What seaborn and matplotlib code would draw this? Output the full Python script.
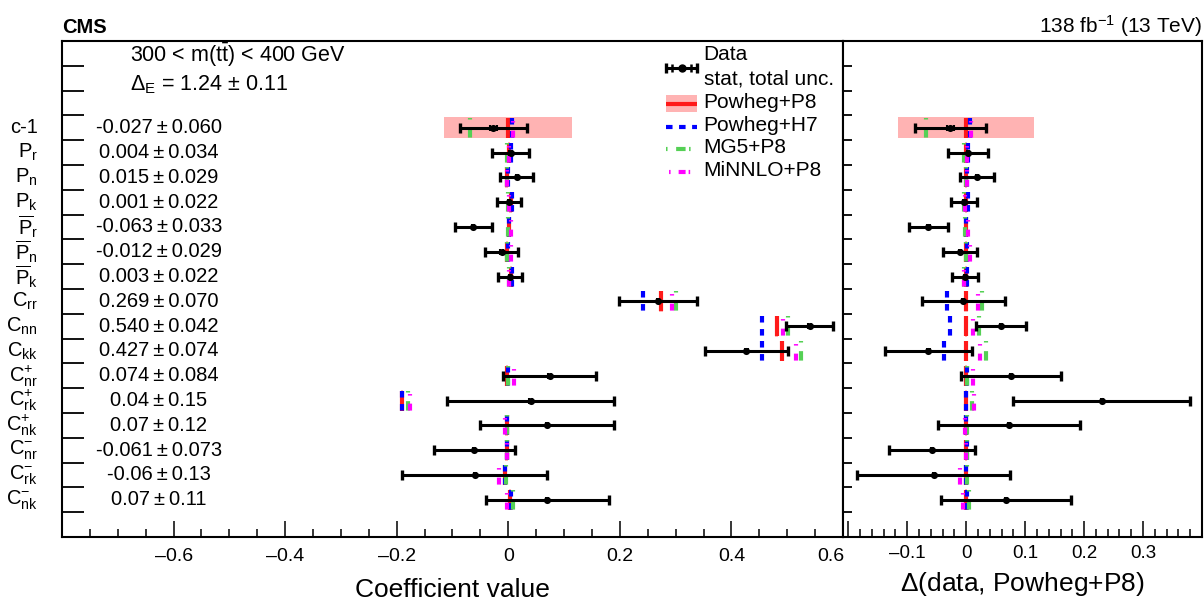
import numpy as np
import pandas as pd
import matplotlib
matplotlib.use("Agg")
import matplotlib.pyplot as plt
import seaborn as sns
from matplotlib.ticker import MultipleLocator, FixedLocator, NullFormatter, FuncFormatter
from matplotlib.transforms import blended_transform_factory, ScaledTranslation

# ---------------------------------------------------------------- data
coefficients = ["c-1", r"$P_{r}$", r"$P_{n}$", r"$P_{k}$",
                r"$\overline{P}_{r}$", r"$\overline{P}_{n}$", r"$\overline{P}_{k}$",
                r"$C_{rr}$", r"$C_{nn}$", r"$C_{kk}$",
                r"$C^{+}_{nr}$", r"$C^{+}_{rk}$", r"$C^{+}_{nk}$",
                r"$C^{-}_{nr}$", r"$C^{-}_{rk}$", r"$C^{-}_{nk}$"]
data_value = [-0.027, 0.004, 0.015, 0.001, -0.063, -0.012, 0.003,
              0.269, 0.540, 0.427, 0.074, 0.04, 0.07, -0.061, -0.06, 0.07]
data_total = [0.060, 0.034, 0.029, 0.022, 0.033, 0.029, 0.022,
              0.070, 0.042, 0.074, 0.084, 0.15, 0.12, 0.073, 0.13, 0.11]
data_stat = [0.006, 0.002, 0.002, 0.002, 0.002, 0.002, 0.002,
             0.002, 0.002, 0.002, 0.002, 0.002, 0.002, 0.002, 0.002, 0.002]
decimals = [3, 3, 3, 3, 3, 3, 3, 3, 3, 3, 3, 2, 2, 3, 2, 2]

powheg_p8 = [0.000, 0.001, -0.003, 0.004, 0.001, -0.002, 0.005,
             0.274, 0.481, 0.491, -0.002, -0.190, -0.003, -0.003, -0.005, 0.003]
powheg_p8_unc = [0.115, 0.002, 0.002, 0.002, 0.002, 0.002, 0.002,
                 0.003, 0.002, 0.002, 0.002, 0.002, 0.002, 0.002, 0.002, 0.002]
powheg_h7 = [0.006, 0.004, -0.001, 0.007, 0.001, -0.001, 0.007,
             0.242, 0.454, 0.454, 0.000, -0.190, -0.003, -0.002, -0.005, 0.004]
mg5_p8 = [-0.068, -0.002, -0.003, 0.000, -0.001, -0.002, 0.001,
          0.301, 0.502, 0.524, -0.001, -0.180, -0.002, -0.002, -0.004, 0.008]
minnlo_p8 = [0.008, 0.002, -0.002, 0.002, 0.004, 0.004, 0.002,
             0.294, 0.493, 0.515, 0.010, -0.176, -0.005, -0.003, -0.016, -0.003]

mass_bin = r"300 < m(t$\bar{t}$) < 400 GeV"
entanglement = r"$\Delta_{E}$ = 1.24 $\pm$ 0.11"

# ---------------------------------------------------------------- style
sns.set_style("ticks")
plt.rcParams.update({
    "font.family": ["Liberation Sans", "DejaVu Sans"],
    "mathtext.fontset": "custom",
    "mathtext.rm": "Liberation Sans",
    "mathtext.it": "Liberation Sans:italic",
    "mathtext.bf": "Liberation Sans:bold",
    "mathtext.default": "regular",
    "lines.scale_dashes": False,
    "axes.linewidth": 1.5,
    "axes.edgecolor": "black",
    "axes.labelcolor": "black",
    "text.color": "black",
    "xtick.color": "black",
    "ytick.color": "black",
    "xtick.labelcolor": "black",
})

BAND = "#ffb3b3"
RED = "#ff1a1a"
BLUE = "#0000ff"
GREEN = "#55d055"
MAGENTA = "#ff00ff"
generators = [
    ("Powheg+P8", RED, "-"),
    ("Powheg+H7", BLUE, (0, (4.7, 4.7))),
    ("MG5+P8", GREEN, (0, (1.1, 6.2, 6.8, 2.5))),
    ("MiNNLO+P8", MAGENTA, (5.0, (5.0, 2.2, 1.1, 5.8))),
]
LW = 3.0

n = len(coefficients)
ypos = 16.5 - np.arange(n)
half = 0.4

W, H = 1204, 601
fig = plt.figure(figsize=(W / 100, H / 100), dpi=100)
ax = fig.add_axes([62 / W, 64 / H, 781 / W, 496 / H])
axr = fig.add_axes([843 / W, 64 / H, 359 / W, 496 / H])


def draw_panel(axis, ref, band_unc, preds, dval):
    for y, c, u in zip(ypos, ref, band_unc):
        axis.fill_betweenx([y - 0.42, y + 0.42], c - u, c + u, color=BAND, lw=0, zorder=1)
    for (name, col, ls), vals in zip(generators, preds):
        for y, v in zip(ypos, vals):
            axis.plot([v, v], [y + half, y - half], color=col, lw=LW, ls=ls,
                      solid_capstyle="butt", dash_capstyle="butt", zorder=2)
    axis.errorbar(dval, ypos, xerr=data_total, fmt="none", ecolor="black",
                  elinewidth=2.2, capsize=3.6, capthick=2.4, zorder=4)
    axis.errorbar(dval, ypos, xerr=data_stat, fmt="none", ecolor="black",
                  elinewidth=0, capsize=2.2, capthick=1.5, zorder=4)
    frame = pd.DataFrame({"value": dval, "row": ypos})
    sns.scatterplot(data=frame, x="value", y="row", ax=axis, color="black",
                    s=26, linewidth=0, zorder=5, legend=False)
    axis.set_ylim(0, 20)
    axis.set_ylabel("")


# left panel: absolute values
preds_abs = [powheg_p8, powheg_h7, mg5_p8, minnlo_p8]
draw_panel(ax, powheg_p8, powheg_p8_unc, preds_abs, data_value)

# right panel: differences to Powheg+P8
ref = np.array(powheg_p8)
preds_diff = [np.array(p) - ref for p in preds_abs]
draw_panel(axr, np.zeros(n), powheg_p8_unc, preds_diff, np.array(data_value) - ref)

# ---------------------------------------------------------------- axes
ax.set_xlim(-0.8, 0.6)
ax.xaxis.set_major_locator(MultipleLocator(0.2))
ax.xaxis.set_minor_locator(MultipleLocator(0.05))
axr.set_xlim(-0.209, 0.40)
axr.xaxis.set_major_locator(MultipleLocator(0.1))
axr.xaxis.set_minor_locator(MultipleLocator(0.02))


def tick_text(lo, hi):
    def fmt(v, pos):
        if v < lo - 1e-9 or v > hi + 1e-9:
            return ""
        if abs(v) < 1e-9:
            return "0"
        return f"{v:.1f}".replace("-", "\u2013")
    return FuncFormatter(fmt)


ax.xaxis.set_major_formatter(tick_text(-0.6, 0.6))
axr.xaxis.set_major_formatter(tick_text(-0.1, 0.3))

for a, ylen in ((ax, 16), (axr, 6.5)):
    a.yaxis.set_major_locator(FixedLocator(np.arange(1, 20)))
    a.yaxis.set_major_formatter(NullFormatter())
    a.tick_params(axis="y", which="major", direction="in", length=ylen, width=1.3,
                  left=True, right=False)
    a.tick_params(axis="x", which="major", direction="in", length=11.5, width=1.1,
                  top=False, pad=8)
    a.tick_params(axis="x", which="minor", direction="in", length=5.8, width=1.1,
                  top=False)
    for s in a.spines.values():
        s.set_visible(True)
        s.set_linewidth(1.5)

ax.tick_params(axis="x", labelsize=14)
axr.tick_params(axis="x", labelsize=13.5, pad=6)

ax.set_xlabel("Coefficient value", fontsize=19)
ax.xaxis.set_label_coords(0.5, -0.082)
axr.set_xlabel(r"$\Delta$(data, Powheg+P8)", fontsize=19)
axr.xaxis.set_label_coords(0.5, -0.066)

# the last label of the left panel sits just inside the panel border
fig.canvas.draw()
for t in ax.get_xticklabels():
    if t.get_text() == "0.6":
        t.set_transform(t.get_transform() + ScaledTranslation(-12 / 100, 0, fig.dpi_scale_trans))

# ---------------------------------------------------------------- row labels
tr = blended_transform_factory(ax.transAxes, ax.transData)
for y, name, v, e, d in zip(ypos, coefficients, data_value, data_total, decimals):
    ax.text(-0.031, y, name, transform=tr, ha="right", va="center", fontsize=14.5)
    ax.text(0.124, y, f"{v:.{d}f}\u2009\u00b1\u2009{e:.{d}f}", transform=tr,
            ha="center", va="center", fontsize=14.5)

ax.text(0.087, 19.42, mass_bin, transform=tr, ha="left", va="center", fontsize=15.5)
ax.text(0.087, 18.25, entanglement, transform=tr, ha="left", va="center", fontsize=15.5)

# ---------------------------------------------------------------- legend
lx0, lx1, ltx = 0.282, 0.339, 0.350
ax.errorbar([0.311], [18.92], xerr=[[0.029], [0.028]], fmt="none", ecolor="black",
            elinewidth=2.2, capsize=3.6, capthick=2.4, zorder=4)
ax.errorbar([0.311], [18.92], xerr=[[0.017], [0.016]], fmt="none", ecolor="black",
            elinewidth=0, capsize=3.0, capthick=1.8, zorder=4)
ax.plot([0.311], [18.92], "o", color="black", ms=5, zorder=5)
ax.text(ltx, 19.44, "Data", ha="left", va="center", fontsize=15)
ax.text(ltx, 18.47, "stat, total unc.", ha="left", va="center", fontsize=15)
ax.fill_between([lx0, lx1], 17.15, 17.82, color=BAND, lw=0, zorder=1)
leg_y = [17.46, 16.54, 15.65, 14.71]
for (name, col, ls), y in zip(generators, leg_y):
    ax.plot([lx0, lx1], [y, y], color=col, lw=LW, ls=ls, solid_capstyle="butt",
            dash_capstyle="butt", zorder=2)
    ax.text(ltx, y + 0.06, name, ha="left", va="center", fontsize=15)

# ---------------------------------------------------------------- header
fig.text(62 / W, 1 - 33 / H, "CMS", ha="left", va="baseline", fontsize=14.5,
         fontweight="bold")
fig.text(1202 / W, 1 - 33 / H, r"138 fb$^{-1}$ (13 TeV)", ha="right", va="baseline",
         fontsize=15)

fig.savefig("out.png", dpi=100)
